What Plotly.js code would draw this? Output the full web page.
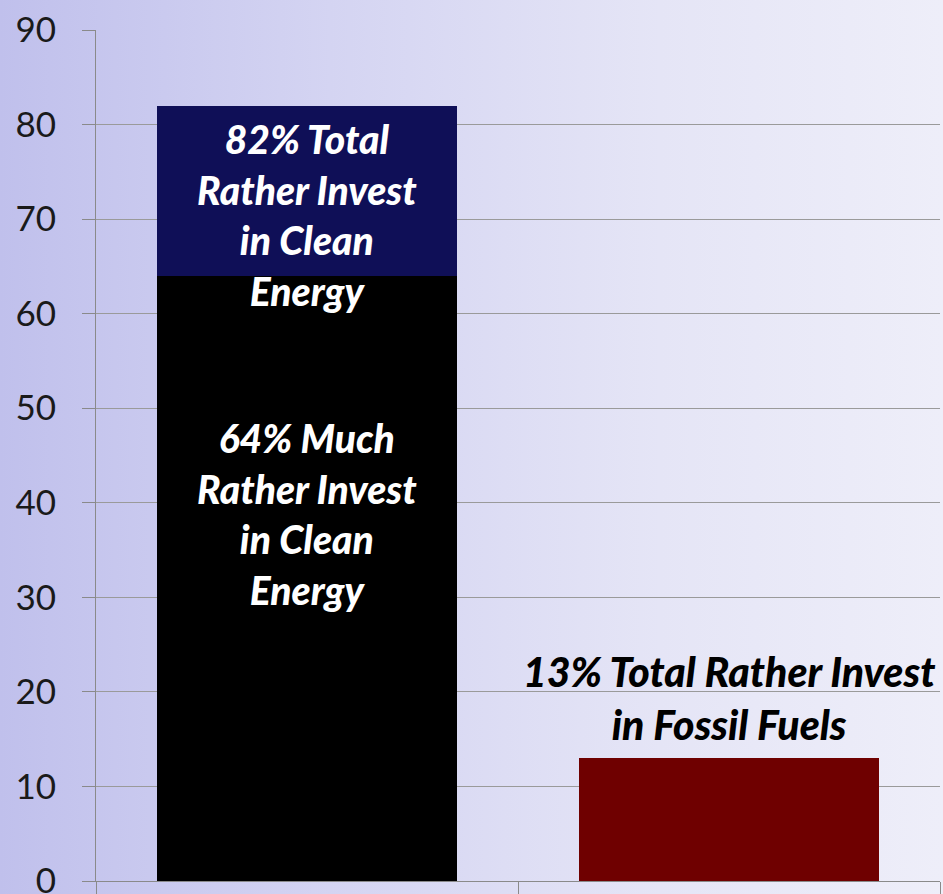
<!DOCTYPE html>
<html>
<head>
<meta charset="utf-8">
<script src="https://cdn.plot.ly/plotly-3.0.1.min.js"></script>
<style>
  html, body { margin: 0; padding: 0; }
  #chart {
    width: 943px; height: 894px;
    background: linear-gradient(to right, #c0c0ec 0%, #d4d4f2 35%, #e5e5f6 70%, #eeeef9 100%);
  }
</style>
</head>
<body>
<div id="chart"></div>
<script>
// ---- data ----
const categories = ["Clean Energy", "Fossil Fuels"];
const muchRatherClean = [64, null];      // 64% much rather invest in clean energy
const totalRatherClean = [82, null];     // 82% total rather invest in clean energy
const somewhatRatherClean = totalRatherClean.map((t, i) => t === null ? null : t - muchRatherClean[i]);
const totalRatherFossil = [null, 13];    // 13% total rather invest in fossil fuels
const yTicks = [0, 10, 20, 30, 40, 50, 60, 70, 80, 90];

const labelFont = { family: "Lato, 'DejaVu Sans', sans-serif", size: 39, weight: 900, style: "italic" };

const traces = [
  { type: "bar", x: categories, y: muchRatherClean, marker: { color: "#000000" }, width: 0.71, hoverinfo: "skip" },
  { type: "bar", x: categories, y: somewhatRatherClean, marker: { color: "#0f0f57" }, width: 0.71, hoverinfo: "skip" },
  { type: "bar", x: categories, y: totalRatherFossil, marker: { color: "#6f0000" }, width: 0.71, hoverinfo: "skip" }
];

const layout = {
  width: 943, height: 894,
  margin: { l: 96, r: 3, t: 30, b: 13, pad: 0 },
  paper_bgcolor: "rgba(0,0,0,0)",
  plot_bgcolor: "rgba(0,0,0,0)",
  barmode: "stack",
  showlegend: false,
  xaxis: {
    type: "category",
    showticklabels: false,
    showgrid: false,
    showline: true, linecolor: "#8a8a8a", linewidth: 1,
    ticks: "outside", tickson: "boundaries", ticklen: 14, tickcolor: "#8a8a8a",
    fixedrange: true
  },
  yaxis: {
    range: [0, 90],
    tickvals: yTicks,
    ticktext: yTicks.map(String),
    showgrid: true, gridcolor: "#9a9a9a", gridwidth: 1,
    showline: true, linecolor: "#8a8a8a", linewidth: 1,
    ticks: "outside", ticklen: 13, tickcolor: "#8a8a8a",
    ticklabelstandoff: 19,
    ticklabeloverflow: "allow",
    tickfont: { family: "Lato, 'DejaVu Sans', sans-serif", size: 35, color: "#1a1a1a" },
    zeroline: false,
    fixedrange: true
  },
  annotations: [
    {
      x: categories[0], y: totalRatherClean[0], xref: "x", yref: "y",
      yanchor: "top", yshift: -8,
      text: totalRatherClean[0] + "% Total<br>Rather Invest<br>in Clean<br>Energy",
      showarrow: false, font: Object.assign({}, labelFont, { color: "#ffffff" })
    },
    {
      x: categories[0], y: muchRatherClean[0], xref: "x", yref: "y",
      yanchor: "top", yshift: -137,
      text: muchRatherClean[0] + "% Much<br>Rather Invest<br>in Clean<br>Energy",
      showarrow: false, font: Object.assign({}, labelFont, { color: "#ffffff" })
    },
    {
      x: categories[1], y: totalRatherFossil[1], xref: "x", yref: "y",
      yanchor: "bottom", yshift: 7,
      text: totalRatherFossil[1] + "% Total Rather Invest<br>in Fossil Fuels",
      showarrow: false, font: Object.assign({}, labelFont, { color: "#000000", size: 41 })
    }
  ]
};

Plotly.newPlot("chart", traces, layout, { displayModeBar: false, staticPlot: true });
</script>
</body>
</html>
